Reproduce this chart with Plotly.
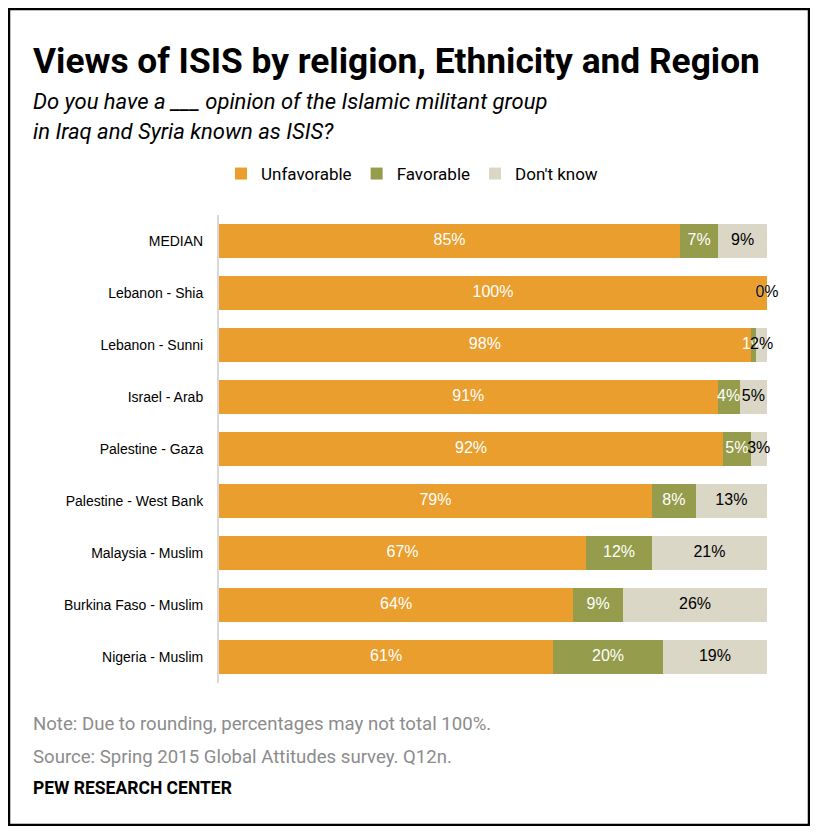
import numpy as np
import plotly.graph_objects as go

# data
groups = ["MEDIAN", "Lebanon - Shia", "Lebanon - Sunni", "Israel - Arab", "Palestine - Gaza",
          "Palestine - West Bank", "Malaysia - Muslim", "Burkina Faso - Muslim", "Nigeria - Muslim"]
unfavorable = [85, 100, 98, 91, 92, 79, 67, 64, 61]
favorable = [7, 0, 1, 4, 5, 8, 12, 9, 20]
dont_know = [9, 0, 2, 5, 3, 13, 21, 26, 19]

series_names = ["Unfavorable", "Favorable", "Don't know"]
colors = ["#EA9E2E", "#959C4B", "#DAD7C7"]
text_colors = ["#FFFFFF", "#FFFFFF", "#000000"]

# the page body has an 8px margin all round, so keep the figure inside it
OFF = 8
W, H = 818 - 2 * OFF, 834 - 2 * OFF
L, R, T, B = 219 - OFF, 767 - OFF, 215 - OFF, 683 - OFF


def px_x(x):
    # x in page pixels of the reference
    return (x - OFF - L) / (R - L)


def px_y(y):
    return (B - (y - OFF)) / (B - T)


fig = go.Figure()
series = [unfavorable, favorable, dont_know]
for name, vals, col in zip(series_names, series, colors):
    fig.add_trace(go.Bar(y=groups, x=vals, name=name, orientation="h",
                         marker=dict(color=col, line=dict(width=0)),
                         hoverinfo="skip"))

# labels sit at the centre of each (100%-normalised) segment
arr = np.array(series, dtype=float)
norm = arr / arr.sum(axis=0) * 100
left = np.cumsum(norm, axis=0) - norm
mid = left + norm / 2
for i, vals in enumerate(series):
    fig.add_trace(go.Scatter(y=groups, x=mid[i], mode="text",
                             text=[f"{v}%" for v in vals],
                             textfont=dict(family="Liberation Sans, Arial", size=16, color=text_colors[i]),
                             showlegend=False, hoverinfo="skip", cliponaxis=False))

fig.update_layout(
    width=W, height=H,
    margin=dict(l=L, r=W - R, t=T, b=H - B),
    paper_bgcolor="white", plot_bgcolor="white",
    barmode="stack", barnorm="percent", bargap=0.35,
    font=dict(family="Liberation Sans, Arial", size=15, color="#000000"),
    showlegend=True,
    legend=dict(orientation="h", x=px_x(412), xanchor="center", y=px_y(174), yanchor="middle",
                font=dict(family="Roboto, sans-serif", size=17, color="#000000"),
                itemwidth=30, traceorder="normal"),
)
fig.update_xaxes(range=[0, 100], visible=False)
fig.update_yaxes(autorange="reversed", showline=True, linecolor="#D9D9D9", linewidth=2,
                 ticks="", showgrid=False, zeroline=False, ticklabelstandoff=11,
                 tickfont=dict(family="Liberation Sans, Arial", size=14, color="#000000"))

title_font = "Roboto, sans-serif"
fig.add_annotation(x=px_x(31), y=px_y(61), xref="paper", yref="paper", xanchor="left", yanchor="middle",
                   text="<b>Views of ISIS by religion, Ethnicity and Region</b>", showarrow=False,
                   font=dict(family=title_font, size=35.3, color="#000000"))
fig.add_annotation(x=px_x(31), y=px_y(102), xref="paper", yref="paper", xanchor="left", yanchor="middle",
                   text="<i>Do you have a ___ opinion of the Islamic militant group</i>", showarrow=False,
                   font=dict(family=title_font, size=22, color="#000000"))
fig.add_annotation(x=px_x(31), y=px_y(132), xref="paper", yref="paper", xanchor="left", yanchor="middle",
                   text="<i>in Iraq and Syria known as ISIS?</i>", showarrow=False,
                   font=dict(family=title_font, size=22, color="#000000"))
fig.add_annotation(x=px_x(31), y=px_y(724), xref="paper", yref="paper", xanchor="left", yanchor="middle",
                   text="Note: Due to rounding, percentages may not total 100%.", showarrow=False,
                   font=dict(family=title_font, size=18.6, color="#8C8C8C"))
fig.add_annotation(x=px_x(31), y=px_y(757), xref="paper", yref="paper", xanchor="left", yanchor="middle",
                   text="Source: Spring 2015 Global Attitudes survey. Q12n.", showarrow=False,
                   font=dict(family=title_font, size=18.6, color="#8C8C8C"))
fig.add_annotation(x=px_x(31), y=px_y(788), xref="paper", yref="paper", xanchor="left", yanchor="middle",
                   text="<b>PEW RESEARCH CENTER</b>", showarrow=False,
                   font=dict(family=title_font, size=17.5, color="#000000"))

# black frame round the whole picture
fig.add_shape(type="rect", xref="paper", yref="paper",
              x0=px_x(OFF + 1), x1=px_x(818 - OFF - 1), y0=px_y(OFF + 1), y1=px_y(834 - OFF - 1),
              line=dict(color="#000000", width=2.5), fillcolor="rgba(0,0,0,0)", layer="above")

fig.write_html("out.html")
